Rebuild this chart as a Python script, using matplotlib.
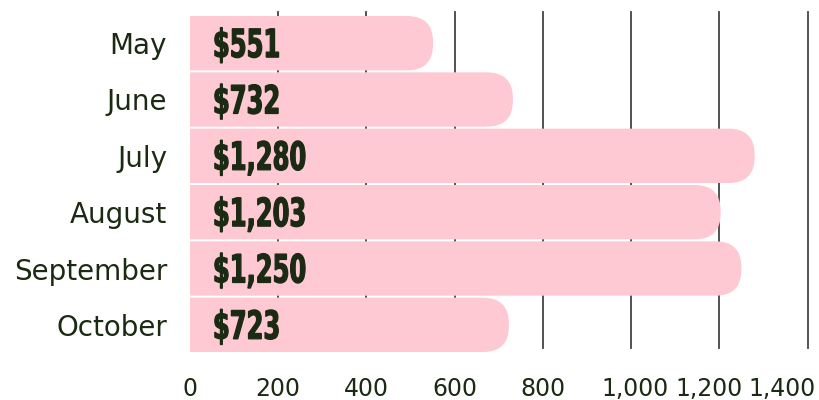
import matplotlib
matplotlib.use('Agg')
import matplotlib.pyplot as plt
from matplotlib.patches import FancyBboxPatch, PathPatch
from matplotlib.textpath import TextPath
from matplotlib.font_manager import FontProperties
from matplotlib.transforms import Affine2D, ScaledTranslation

# data
months = ['May', 'June', 'July', 'August', 'September', 'October']
sales = [551, 732, 1280, 1203, 1250, 723]
value_labels = ['$551', '$732', '$1,280', '$1,203', '$1,250', '$723']
xticks = [0, 200, 400, 600, 800, 1000, 1200, 1400]
xtick_labels = ['0', '200', '400', '600', '800', '1,000', '1,200', '1,400']

pink = '#ffc9d3'
dark = '#1b2a13'

fig = plt.figure(figsize=(8.2, 4), dpi=100)
ax = fig.add_axes([190 / 820, 1 - 353 / 400, 622 / 820, 338 / 400])
ax.set_xlim(0, 1410)
ax.set_ylim(5.5, -0.5)

# vertical grid lines behind bars
for t in xticks[1:]:
    ax.axvline(t, ymin=0.015, ymax=1.01, color='#444444', lw=1.3, zorder=1, clip_on=False)

# rounded bars (left end clipped by axis)
px_x = 1410 / 622          # data units per pixel, x
px_y = 6 / 338             # data units per pixel, y
bar_h = 0.965
r = 26 * px_x
for i, v in enumerate(sales):
    box = FancyBboxPatch((-200, i - bar_h / 2), v + 200, bar_h,
                         boxstyle=f'round,pad=0,rounding_size={r}',
                         mutation_aspect=px_y / px_x,
                         fc=pink, ec='none', zorder=2)
    ax.add_patch(box)

# condensed bold value labels (bold glyphs squeezed horizontally)
fp = FontProperties(family='DejaVu Sans', weight='bold')
for i, lab in enumerate(value_labels):
    tp = TextPath((0, 0), lab, size=39, prop=fp)
    x0, y0 = ax.transData.transform((52, i))
    tr = Affine2D().scale(0.62, 1).translate(x0, y0 - 14)
    fig.add_artist(PathPatch(tp, transform=tr, fc=dark, ec=dark, lw=0.9, zorder=5))

ax.set_yticks(range(len(months)))
ax.set_yticklabels(months, fontsize=20, color=dark)
ax.set_xticks(xticks)
ax.set_xticklabels(xtick_labels, fontsize=17, color=dark)
ax.tick_params(length=0)
ax.tick_params(axis='y', pad=16.5)
ax.tick_params(axis='x', pad=17)

# nudge the crowded right-hand tick labels
shifts = {5: 4, 6: -10, 7: -26}
for k, lbl in enumerate(ax.get_xticklabels()):
    if k in shifts:
        lbl.set_transform(lbl.get_transform() + ScaledTranslation(shifts[k] / 100, 0, fig.dpi_scale_trans))

for s in ax.spines.values():
    s.set_visible(False)

fig.savefig('out.png', dpi=100)
